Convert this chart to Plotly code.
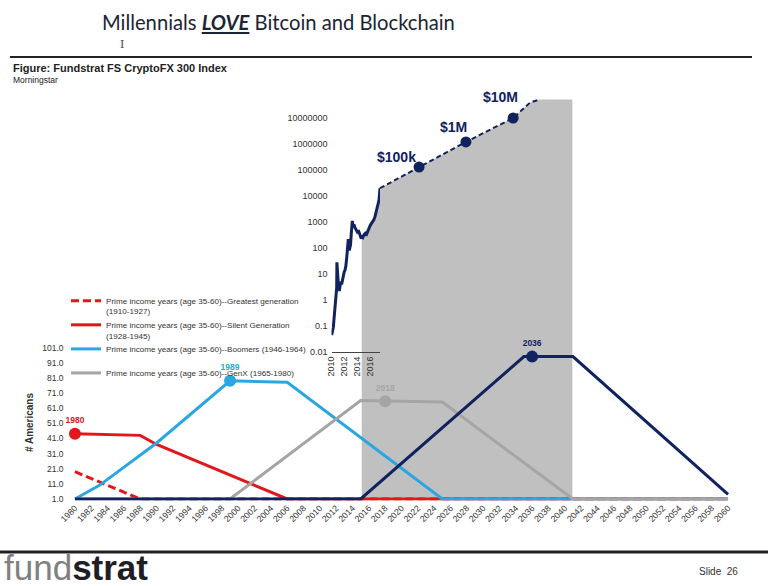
import math
import plotly.graph_objects as go

# ---------------- data ----------------
# Fundstrat FS CryptoFX 300 index (log scale, upper chart)
index_years = [2010.03, 2010.28, 2010.43, 2010.54, 2010.65, 2010.75, 2010.80, 2010.83, 2010.90,
               2010.95, 2011.05, 2011.20, 2011.30, 2011.41, 2011.55, 2011.66, 2011.81, 2011.95,
               2012.07, 2012.20, 2012.33, 2012.45, 2012.58, 2012.66, 2012.73, 2012.85, 2012.92,
               2013.05, 2013.20, 2013.30, 2013.45, 2013.61, 2013.80, 2013.95, 2014.12, 2014.30,
               2014.50, 2014.64, 2014.80, 2015.00, 2015.15, 2015.30, 2015.50, 2015.65, 2015.85,
               2016.00, 2016.18, 2016.35, 2016.50, 2016.68, 2016.85, 2017.04, 2017.20, 2017.30,
               2017.45]
index_values = [0.045, 0.09, 0.25, 0.5, 1.0, 2.5, 3.0, 28, 12,
                7, 4, 2.2, 4.5, 5, 4, 5.5, 11, 12,
                14, 20, 40, 100, 220, 120, 80, 110, 130,
                400, 1100, 700, 800, 600, 500, 420, 480, 350,
                260, 270, 250, 330, 360, 300, 420, 560, 650,
                780, 900, 1000, 1200, 1600, 2500, 3900, 5000, 7000,
                20000]

# projection (dashed)
proj_years = [2017.45, 2023.45, 2030.65, 2037.9, 2040.5, 2042.0]
proj_values = [20000, 130000, 1.2e6, 1.0e7, 3.9e7, 5.2e7]

milestone_years = [2023.45, 2030.65, 2037.9]
milestone_values = [130000, 1.2e6, 1.0e7]
milestone_labels = ["$100k", "$1M", "$10M"]

shade_start = 2014.64
shade_end = 2047.0

up_tick_vals = [0.01, 0.1, 1, 10, 100, 1000, 10000, 100000, 1000000, 10000000]
up_tick_text = ["0.01", "0.1", "1", "10", "100", "1000", "10000", "100000", "1000000", "10000000"]
up_x_ticks = [2010, 2012, 2014, 2016]

# Prime income years (lower chart)
greatest_years = [1980, 1988, 2060]
greatest_vals = [19, 1, 1]
silent_years = [1980, 1988, 1990, 2006, 2060]
silent_vals = [44, 43, 37, 1, 1]
boomers_years = [1980, 1983, 1990, 1999, 2006, 2025, 2060]
boomers_vals = [1, 10, 38, 79, 78, 1, 1]
genx_years = [1980, 1999, 2015, 2025, 2041, 2060]
genx_vals = [1, 1, 66, 65, 1, 1]
millennial_years = [1980, 2015, 2035, 2041, 2060]
millennial_vals = [1, 1, 95, 95, 4]

peak_years = [1980, 1999, 2018, 2036]
peak_vals = [44, 79, 65.5, 95]
peak_labels = ["1980", "1989", "2018", "2036"]

low_x_ticks = list(range(1980, 2061, 2))
low_y_ticks = [1, 11, 21, 31, 41, 51, 61, 71, 81, 91, 101]
low_y_text = ["1.0", "11.0", "21.0", "31.0", "41.0", "51.0", "61.0", "71.0", "81.0", "91.0", "101.0"]

legend_names = [
    "Prime income years (age 35-60)--Greatest generation<br>(1910-1927)",
    "Prime income years (age 35-60)--Silent Generation<br>(1928-1945)",
    "Prime income years (age 35-60)--Boomers (1946-1964)<br> ",
    "Prime income years (age 35-60)--GenX (1965-1980)<br> ",
]

# ---------------- style ----------------
W, H = 768, 586
SANS = "Liberation Sans, Arial, sans-serif"
NAVY = "#10235F"
RED = "#E2161B"
BLUE = "#2AA7E1"
GRAYL = "#A5A5A5"
FILL = "#C0C0C0"
TXT = "#333333"


def px(x):
    return x / W


def py(y):
    return 1 - y / H


PX_PER_YEAR_UP = 6.51
PX_PER_DEC = 26.0

fig = go.Figure()

# ---- upper chart, shaded projection area (subplot x/y) ----
fill_x = [y for y in index_years if y >= shade_start] + proj_years[1:] + [shade_end]
fill_y = [v for y, v in zip(index_years, index_values) if y >= shade_start] + proj_values[1:] + [proj_values[-1]]
fig.add_trace(go.Scatter(x=fill_x, y=fill_y, mode="lines", fill="tozeroy", fillcolor=FILL,
                         line=dict(width=0, color=FILL), xaxis="x", yaxis="y",
                         showlegend=False, hoverinfo="skip"))
fig.add_trace(go.Scatter(x=proj_years, y=proj_values, mode="lines",
                         line=dict(color=NAVY, width=2, dash="5px,3px"),
                         xaxis="x", yaxis="y", showlegend=False))
fig.add_trace(go.Scatter(x=milestone_years, y=milestone_values, mode="markers",
                         marker=dict(color=NAVY, size=11), xaxis="x", yaxis="y",
                         showlegend=False, cliponaxis=False))

# ---- upper chart, actual index (subplot x2/y2) ----
fig.add_trace(go.Scatter(x=index_years, y=index_values, mode="lines",
                         line=dict(color=NAVY, width=3), xaxis="x2", yaxis="y2",
                         showlegend=False))

# ---- lower chart (subplot x3/y3) ----
fig.add_trace(go.Scatter(x=greatest_years, y=greatest_vals, mode="lines", name=legend_names[0],
                         line=dict(color=RED, width=3, dash="8px,4px"), xaxis="x3", yaxis="y3"))
fig.add_trace(go.Scatter(x=silent_years, y=silent_vals, mode="lines", name=legend_names[1],
                         line=dict(color=RED, width=3), xaxis="x3", yaxis="y3"))
fig.add_trace(go.Scatter(x=boomers_years, y=boomers_vals, mode="lines", name=legend_names[2],
                         line=dict(color=BLUE, width=3), xaxis="x3", yaxis="y3"))
fig.add_trace(go.Scatter(x=genx_years, y=genx_vals, mode="lines", name=legend_names[3],
                         line=dict(color=GRAYL, width=3), xaxis="x3", yaxis="y3"))
fig.add_trace(go.Scatter(x=millennial_years, y=millennial_vals, mode="lines",
                         line=dict(color=NAVY, width=3), xaxis="x3", yaxis="y3", showlegend=False))
peak_colors = [RED, BLUE, GRAYL, NAVY]
fig.add_trace(go.Scatter(x=peak_years, y=peak_vals, mode="markers+text", text=peak_labels,
                         textposition="top center", cliponaxis=False,
                         textfont=dict(family=SANS, size=8.5, color=peak_colors, weight="bold"),
                         marker=dict(color=peak_colors, size=12), xaxis="x3", yaxis="y3",
                         showlegend=False))

# ---- axes ----
up_x_right = 600
up_range_x = [2010, 2010 + (up_x_right - 331.5) / PX_PER_YEAR_UP]
fig.update_layout(
    xaxis=dict(domain=[px(331.5), px(up_x_right)], range=up_range_x, visible=False, anchor="y",
               automargin=False),
    yaxis=dict(domain=[py(499), py(95)], type="log",
               range=[-2 - (499 - 352) / PX_PER_DEC, -2 + (352 - 95) / PX_PER_DEC],
               visible=False, anchor="x", automargin=False),
    xaxis2=dict(domain=[px(331.5), px(380)], range=[2010, 2017.45], anchor="y2", automargin=False,
                showline=True, linecolor="#444444", linewidth=1, showgrid=False, zeroline=False,
                tickvals=up_x_ticks, ticktext=[str(t) for t in up_x_ticks], tickangle=-90,
                ticks="", tickfont=dict(family=SANS, size=9, color=TXT)),
    yaxis2=dict(domain=[py(352), py(110)], type="log", range=[-2, -2 + (352 - 110) / PX_PER_DEC],
                anchor="x2", showgrid=False, zeroline=False, showline=False, ticks="",
                automargin=False, tickvals=up_tick_vals, ticktext=up_tick_text,
                ticklabelstandoff=3,
                tickfont=dict(family=SANS, size=9, color=TXT)),
    xaxis3=dict(domain=[px(72.5), px(730.5)], range=[1979.7, 2060.3], anchor="y3",
                showline=False, showgrid=False, zeroline=False, ticks="", automargin=False,
                tickvals=low_x_ticks, ticktext=[str(t) for t in low_x_ticks], tickangle=-45,
                tickfont=dict(family=SANS, size=8.7, color=TXT)),
    yaxis3=dict(domain=[py(500.5), py(344.5)], range=[0, 103], anchor="x3",
                showline=False, showgrid=False, zeroline=False, ticks="", automargin=False,
                tickvals=low_y_ticks, ticktext=low_y_text, ticklabelstandoff=8,
                tickfont=dict(family=SANS, size=8.5, color=TXT),
                title=dict(text="<b># Americans</b>", font=dict(family=SANS, size=10, color=TXT),
                           standoff=6)),
)

# ---- annotations ----
ann = []
label_shifts = [(-23, 10), (-12, 15), (-13, 21)]
for yr, v, lab, (dx, dy) in zip(milestone_years, milestone_values, milestone_labels, label_shifts):
    ann.append(dict(x=yr, y=math.log10(v), xref="x", yref="y", text="<b>%s</b>" % lab,
                    showarrow=False, xshift=dx, yshift=dy,
                    font=dict(family=SANS, size=14, color=NAVY)))

ann.append(dict(x=px(100), y=py(22), xref="paper", yref="paper", xanchor="left", yanchor="middle",
                text="Millennials <b><i><u>LOVE</u></i></b> Bitcoin and Blockchain", showarrow=False,
                font=dict(family="Lato, Liberation Sans, sans-serif", size=20.2, color="#1C2533")))
ann.append(dict(x=px(122), y=py(44), xref="paper", yref="paper", xanchor="center", yanchor="middle",
                text="I", showarrow=False, font=dict(family="DejaVu Serif", size=11, color="#444444")))
ann.append(dict(x=px(11), y=py(68), xref="paper", yref="paper", xanchor="left", yanchor="middle",
                text="<b>Figure: Fundstrat FS CryptoFX 300 Index</b>", showarrow=False,
                font=dict(family=SANS, size=11, color="#222222")))
ann.append(dict(x=px(11), y=py(80), xref="paper", yref="paper", xanchor="left", yanchor="middle",
                text="Morningstar", showarrow=False,
                font=dict(family=SANS, size=8.5, color="#222222")))
ann.append(dict(x=px(2), y=py(567), xref="paper", yref="paper", xanchor="left", yanchor="middle",
                text="<span style='color:#808080'>fund</span><b>strat</b>", showarrow=False,
                font=dict(family=SANS, size=35, color="#1E1E24")))
ann.append(dict(x=px(740), y=py(571), xref="paper", yref="paper", xanchor="right", yanchor="middle",
                text="Slide  26", showarrow=False,
                font=dict(family=SANS, size=10, color=TXT)))

shapes = [
    dict(type="line", xref="paper", yref="paper", x0=px(10), x1=px(752), y0=py(57), y1=py(57),
         line=dict(color="#222222", width=2)),
    dict(type="line", xref="paper", yref="paper", x0=0, x1=1, y0=py(552), y1=py(552),
         line=dict(color="#222222", width=3)),
]

fig.update_layout(
    template="none",
    width=W, height=H, margin=dict(l=0, r=0, t=0, b=0, pad=0),
    font=dict(family=SANS, color=TXT),
    paper_bgcolor="white", plot_bgcolor="rgba(0,0,0,0)",
    annotations=ann, shapes=shapes,
    legend=dict(x=px(66), y=py(289), xanchor="left", yanchor="top", bgcolor="rgba(0,0,0,0)",
                font=dict(family=SANS, size=8.1, color=TXT), itemwidth=30, valign="top",
                tracegroupgap=0),
    hovermode=False,
)

fig.write_html("out.html", config={"displayModeBar": False},
               post_script="document.body.style.margin='0';")
